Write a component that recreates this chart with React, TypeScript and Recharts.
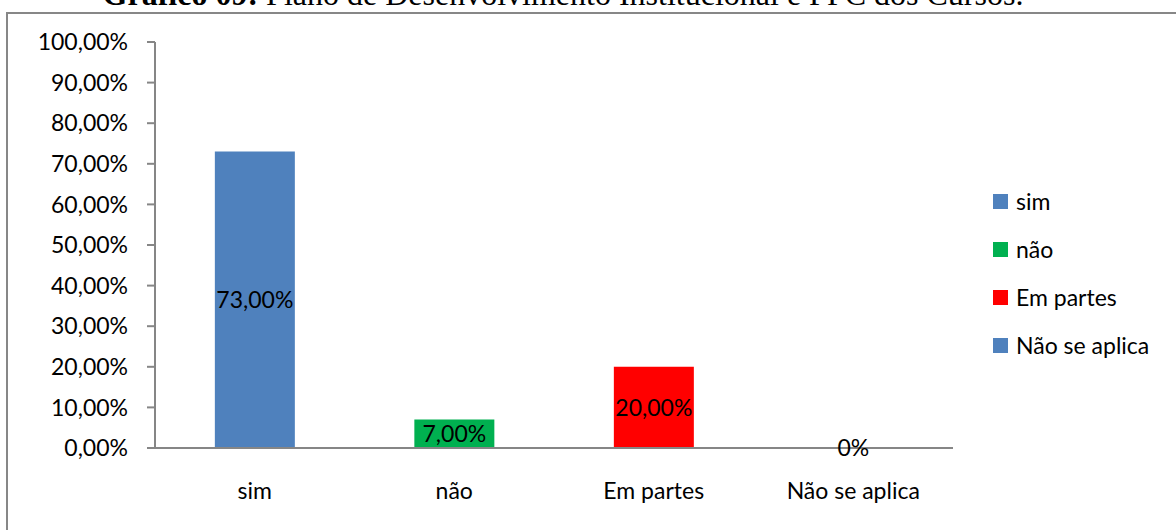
import { BarChart, Bar, XAxis, YAxis, Cell, LabelList, Legend } from "recharts";

const categories = ["sim", "não", "Em partes", "Não se aplica"];
const shares = [0.73, 0.07, 0.2, 0];
const barColors = ["#4F81BD", "#00B050", "#FF0000", "#4F81BD"];
const yTicks = [0, 0.1, 0.2, 0.3, 0.4, 0.5, 0.6, 0.7, 0.8, 0.9, 1];
// category boundaries, where the tick marks sit under the axis
const edgeTicks = [0, 1, 2, 3, 4];

const FONT = "Lato, 'Open Sans', sans-serif";
const GREY = "#868686";
const FS = 23;

const pct = (v: number) => (v * 100).toFixed(2).replace(".", ",") + "%";
const labelPct = (v: any) => (Number(v) === 0 ? "0%" : pct(Number(v)));

const data = categories.map((name, i) => ({ name, value: shares[i] }));

const LegendBox = () => (
  <div>
    {categories.map((c, i) => (
      <div
        key={c}
        style={{ display: "flex", alignItems: "center", height: 48 }}
      >
        <span
          style={{
            display: "inline-block",
            width: 15,
            height: 15,
            background: barColors[i],
            marginRight: 8,
          }}
        />
        <span style={{ fontSize: FS, color: "#000", fontFamily: FONT }}>
          {c}
        </span>
      </div>
    ))}
  </div>
);

export default function App() {
  return (
    <div
      style={{
        position: "fixed",
        left: 0,
        top: 0,
        width: 1176,
        height: 530,
        background: "#fff",
        overflow: "hidden",
        fontFamily: FONT,
      }}
    >
      {/* frame of the chart area, runs past the right and bottom edges */}
      <div
        style={{
          position: "absolute",
          left: 6,
          top: 12,
          width: 1300,
          height: 700,
          border: "2px solid #878787",
          boxSizing: "border-box",
        }}
      />
      <svg
        width={1176}
        height={20}
        overflow="visible"
        style={{ position: "absolute", left: 0, top: 0 }}
      >
        <text
          x={563}
          y={5}
          textAnchor="middle"
          fontFamily="'Liberation Serif', 'Times New Roman', serif"
          fontSize={32}
          fill="#000"
        >
          <tspan fontWeight="bold">Gráfico 09:</tspan>
          {" Plano de Desenvolvimento Institucional e PPC dos Cursos."}
        </text>
      </svg>
      <div style={{ position: "absolute", left: 0, top: 0 }}>
        <BarChart
          width={1176}
          height={530}
          data={data}
          margin={{ top: 42, right: 223, bottom: 22, left: 0 }}
          barCategoryGap="30%"
        >
          <XAxis
            xAxisId="a_edges"
            type="number"
            domain={[0, categories.length]}
            ticks={edgeTicks}
            interval={0}
            tick={false}
            axisLine={{ stroke: GREY, strokeWidth: 2 }}
            tickLine={{ stroke: GREY, strokeWidth: 2 }}
            tickSize={9}
            height={1}
          />
          <XAxis
            xAxisId="b_cat"
            dataKey="name"
            interval={0}
            axisLine={false}
            tickLine={false}
            tickSize={0}
            tickMargin={34}
            height={59}
            tick={{ fill: "#000", fontSize: FS, fontFamily: FONT }}
          />
          <YAxis
            domain={[0, 1]}
            ticks={yTicks}
            interval={0}
            tickFormatter={pct}
            width={155}
            axisLine={{ stroke: GREY, strokeWidth: 2 }}
            tickLine={{ stroke: GREY, strokeWidth: 2 }}
            tickSize={8}
            tickMargin={19}
            tick={{ fill: "#000", fontSize: FS, fontFamily: FONT }}
          />
          <Legend
            layout="vertical"
            align="center"
            verticalAlign="middle"
            wrapperStyle={{ left: 993, top: 177, width: 183 }}
            content={<LegendBox />}
          />
          <Bar
            dataKey="value"
            xAxisId="b_cat"
            isAnimationActive={false}
            minPointSize={(v: number) => (v === 0 ? 1 : 0)}
          >
            {data.map((d, i) => (
              <Cell
                key={d.name}
                fill={barColors[i]}
                fillOpacity={d.value === 0 ? 0 : 1}
              />
            ))}
            <LabelList
              dataKey="value"
              position="center"
              formatter={labelPct}
              fill="#000"
              fontSize={FS}
              fontFamily={FONT}
            />
          </Bar>
        </BarChart>
      </div>
    </div>
  );
}
